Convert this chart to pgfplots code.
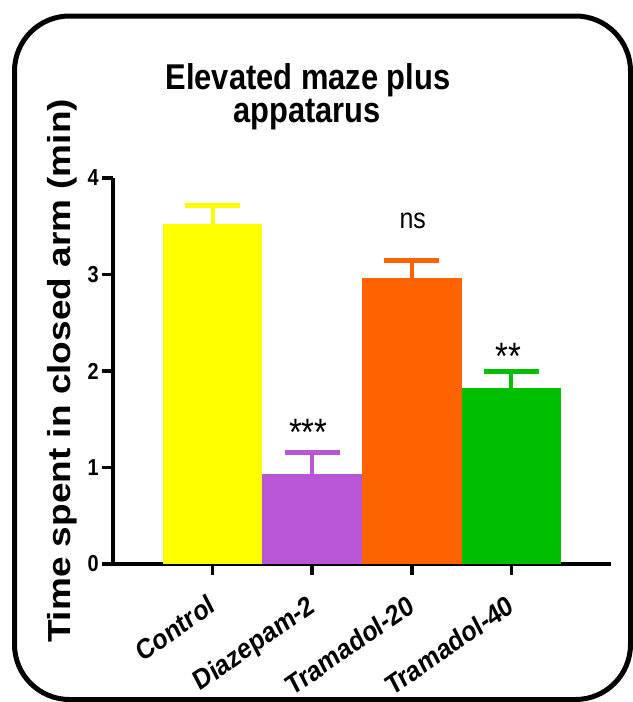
\documentclass[border=0pt]{standalone}
\usepackage{fontspec}
\setmainfont{Liberation Sans}
\usepackage{pgfplots}
\pgfplotsset{compat=1.18}
\definecolor{cyel}{RGB}{255,255,0}
\definecolor{cpur}{RGB}{184,87,214}
\definecolor{cora}{RGB}{255,98,0}
\definecolor{cgre}{RGB}{0,190,0}
\begin{document}
\begin{tikzpicture}
\path[use as bounding box] (0,0) rectangle (633bp,-702bp);
\begin{scope}
\clip (0,0) rectangle (633bp,-702bp);
\draw[line width=5bp, rounded corners=55bp] (14.5bp,-16bp) rectangle (630.5bp,-699.5bp);
\end{scope}
\node[anchor=base, font=\fontsize{31}{31}\selectfont\bfseries, inner sep=0pt] at (308bp,-89bp) {\scalebox{1}[1.16]{Elevated maze plus}};
\node[anchor=base, font=\fontsize{31}{31}\selectfont\bfseries, inner sep=0pt] at (307bp,-122bp) {\scalebox{1}[1.16]{appatarus}};
\begin{axis}[
  at={(113bp,-564bp)}, anchor=south west,
  scale only axis, width=498bp, height=386bp,
  xmin=-1, xmax=4, ymin=0, ymax=4,
  axis x line*=bottom, axis y line*=left,
  axis line style={line width=4bp, black},
  xtick={0,1,2,3},
  xticklabels={Control,Diazepam-2,Tramadol-20,Tramadol-40},
  ytick={0,1,2,3,4},
  yticklabels={0,1,2,3,4},
  tick style={line width=3.5bp, black},
  major tick length=11bp, tick align=outside,
  yticklabel style={font=\fontsize{20}{20}\selectfont\bfseries, inner sep=0pt, anchor=east, xshift=-3bp, yscale=1.16},
  xticklabel style={font=\fontsize{24.5}{24.5}\selectfont\bfseries, inner sep=0pt, anchor=north east, xshift=-5bp, yshift=-18bp, yscale=1.16, rotate=31},
  ylabel={\scalebox{1.16}[1]{Time spent in closed arm (min)}},
  ylabel style={at={(axis description cs:-0.0863,0.5)}, anchor=base, font=\fontsize{32}{32}\selectfont\bfseries, inner sep=0pt},
  clip=false,
]
\addplot[ybar, bar width=1, bar shift=0pt, fill=cyel, draw=none,
  error bars/.cd, y dir=plus, y explicit, error mark=|,
  error bar style={line width=4bp, cyel},
  error mark options={mark size=27.5bp, line width=5bp, cyel}]
  coordinates {(0,3.52) +- (0,0.19)};
\addplot[ybar, bar width=1, bar shift=0pt, fill=cpur, draw=none,
  error bars/.cd, y dir=plus, y explicit, error mark=|,
  error bar style={line width=4bp, cpur},
  error mark options={mark size=27.5bp, line width=5bp, cpur}]
  coordinates {(1,0.93) +- (0,0.23)};
\addplot[ybar, bar width=1, bar shift=0pt, fill=cora, draw=none,
  error bars/.cd, y dir=plus, y explicit, error mark=|,
  error bar style={line width=4bp, cora},
  error mark options={mark size=27.5bp, line width=5bp, cora}]
  coordinates {(2,2.96) +- (0,0.19)};
\addplot[ybar, bar width=1, bar shift=0pt, fill=cgre, draw=none,
  error bars/.cd, y dir=plus, y explicit, error mark=|,
  error bar style={line width=4bp, cgre},
  error mark options={mark size=27.5bp, line width=5bp, cgre}]
  coordinates {(3,1.82) +- (0,0.18)};
\node[anchor=base, font=\fontsize{33}{33}\selectfont, inner sep=0pt] at (axis cs:0.96,1.23) {\scalebox{1}[1.16]{***}};
\node[anchor=base, font=\fontsize{25}{25}\selectfont, inner sep=0pt] at (axis cs:2.01,3.478) {\scalebox{1}[1.16]{ns}};
\node[anchor=base, font=\fontsize{33}{33}\selectfont, inner sep=0pt] at (axis cs:2.97,2.02) {\scalebox{1}[1.16]{**}};
\end{axis}
\end{tikzpicture}
\end{document}
